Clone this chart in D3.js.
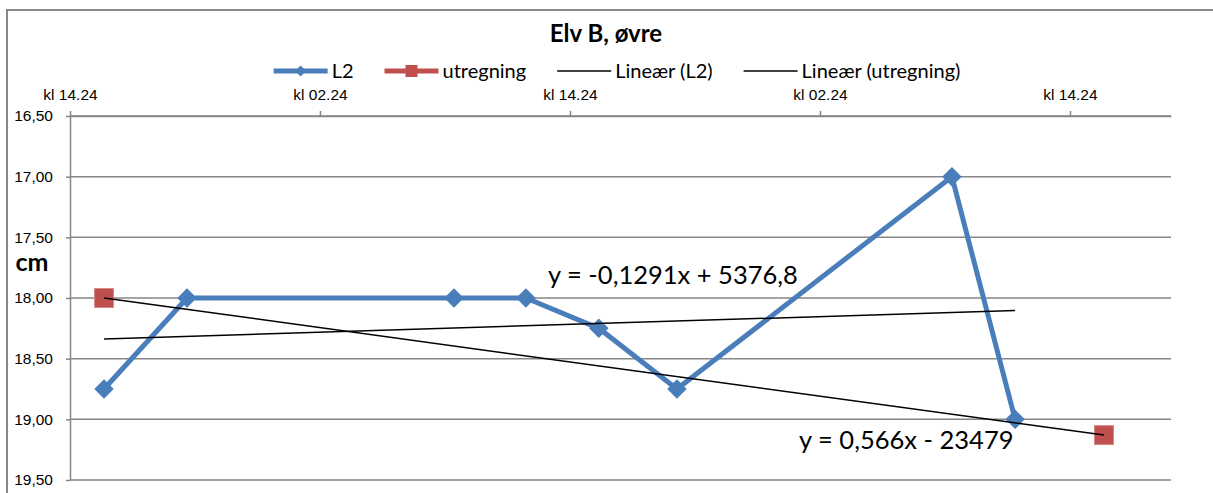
<!DOCTYPE html>
<html lang="no">
<head>
<meta charset="utf-8">
<title>Elv B, øvre</title>
<script src="https://d3js.org/d3.v7.min.js"></script>
<style>
  body { margin: 0; background: #fff; }
  svg { display: block; font-family: Lato, "Noto Sans", sans-serif; }
  .axis text { font-size: 15.5px; fill: #000; }
  .axis path, .axis line { stroke: #868686; stroke-width: 1.5; }
  .grid line { stroke: #868686; stroke-width: 1.5; }
  .title { font-size: 24px; font-weight: 700; }
  .ylabel { font-size: 25px; font-weight: 700; }
  .legend text { font-size: 20px; }
  .eq { font-size: 25.5px; }
</style>
</head>
<body>
<script>
const parseTime = d3.timeParse("%Y-%m-%d %H:%M");

const l2Times = ["2013-08-20 16:02", "2013-08-20 20:01", "2013-08-21 08:50", "2013-08-21 12:17",
                 "2013-08-21 15:47", "2013-08-21 19:32", "2013-08-22 08:44", "2013-08-22 11:46"];
const l2Values = [18.75, 18.00, 18.00, 18.00, 18.25, 18.75, 17.00, 19.00];
const utregningTimes = ["2013-08-20 16:02", "2013-08-22 16:02"];
const utregningValues = [18.00, 19.13];

const xDomain = ["2013-08-20 14:24", "2013-08-22 19:15"];
const xTickTimes = ["2013-08-20 14:24", "2013-08-21 02:24", "2013-08-21 14:24", "2013-08-22 02:24", "2013-08-22 14:24"];
const yTickValues = [16.5, 17, 17.5, 18, 18.5, 19, 19.5];
const seriesNames = ["L2", "utregning", "Lineær (L2)", "Lineær (utregning)"];
const trendEquations = ["y = -0,1291x + 5376,8", "y = 0,566x - 23479"];

const W = 1213, H = 493;
const plot = { left: 70, right: 1171, top: 116, bottom: 480 };
const blue = "#4A7EBB", red = "#C0504D";

const svg = d3.select("body").append("svg").attr("width", W).attr("height", H);

// chart frame
svg.append("rect").attr("x", 7).attr("y", 10).attr("width", W + 20).attr("height", H + 20)
   .attr("fill", "none").attr("stroke", "#888").attr("stroke-width", 2);

const x = d3.scaleTime().domain(xDomain.map(parseTime)).range([plot.left, plot.right]);
const y = d3.scaleLinear().domain([16.5, 19.5]).range([plot.top, plot.bottom]);

// gridlines
svg.append("g").attr("class", "grid")
   .selectAll("line").data(yTickValues).join("line")
   .attr("x1", plot.left).attr("x2", plot.right)
   .attr("y1", d => y(d)).attr("y2", d => y(d));

// axes
svg.append("g").attr("class", "axis")
   .attr("transform", `translate(0,${plot.top})`)
   .call(d3.axisTop(x).tickValues(xTickTimes.map(parseTime))
          .tickFormat(d3.timeFormat("kl %H.%M")).tickSize(5).tickSizeOuter(0).tickPadding(11));

svg.append("g").attr("class", "axis")
   .attr("transform", `translate(${plot.left},0)`)
   .call(d3.axisLeft(y).tickValues(yTickValues)
          .tickFormat(d => d.toFixed(2).replace(".", ",")).tickSize(4).tickSizeOuter(0).tickPadding(13));

// title and axis label
svg.append("text").attr("class", "title").attr("x", 606).attr("y", 42)
   .attr("text-anchor", "middle").text("Elv B, øvre");
svg.append("text").attr("class", "ylabel").attr("x", 32).attr("y", 271)
   .attr("text-anchor", "middle").text("cm");

const l2 = l2Times.map((t, i) => ({ t: parseTime(t), v: l2Values[i] }));
const utr = utregningTimes.map((t, i) => ({ t: parseTime(t), v: utregningValues[i] }));

const line = d3.line().x(d => x(d.t)).y(d => y(d.v));

// least squares fit, x in days like Excel
function trend(data) {
  const xs = data.map(d => d.t / 864e5), ys = data.map(d => d.v);
  const mx = d3.mean(xs), my = d3.mean(ys);
  const b = d3.sum(xs, (v, i) => (v - mx) * (ys[i] - my)) / d3.sum(xs, v => (v - mx) ** 2);
  const a = my - b * mx;
  const ends = [data[0].t, data[data.length - 1].t];
  return ends.map(t => ({ t: t, v: a + b * (t / 864e5) }));
}

// L2 series
svg.append("path").datum(l2).attr("d", line)
   .attr("fill", "none").attr("stroke", blue).attr("stroke-width", 5).attr("stroke-linejoin", "round");
svg.append("g").selectAll("path").data(l2).join("path")
   .attr("d", d3.symbol(d3.symbolSquare, 190))
   .attr("transform", d => `translate(${x(d.t)},${y(d.v)}) rotate(45)`)
   .attr("fill", blue);

// utregning series
svg.append("g").selectAll("rect").data(utr).join("rect")
   .attr("x", d => x(d.t) - 9.5).attr("y", d => y(d.v) - 9.5)
   .attr("width", 19).attr("height", 19)
   .attr("fill", red).attr("stroke", "#d98a88").attr("stroke-width", 1);

// trend lines
[l2, utr].forEach(s => {
  svg.append("path").datum(trend(s)).attr("d", line)
     .attr("fill", "none").attr("stroke", "#000").attr("stroke-width", 1.5);
});

svg.append("text").attr("class", "eq").attr("x", 548).attr("y", 284).text(trendEquations[0]);
svg.append("text").attr("class", "eq").attr("x", 799).attr("y", 449).text(trendEquations[1]);

// legend
const legend = svg.append("g").attr("class", "legend");
const items = legend.selectAll("g").data(seriesNames).join("g");
items.append("text").attr("x", 58).attr("y", 78).text(d => d);
let cx = 0;
const offsets = [];
items.each(function () {
  offsets.push(cx);
  cx += 58 + this.querySelector("text").getComputedTextLength() + 31;
});
const total = cx - 31;
items.attr("transform", (d, i) => `translate(${617 - total / 2 + offsets[i]},0)`);
items.append("line").attr("x1", 0).attr("x2", 54).attr("y1", 71).attr("y2", 71)
     .attr("stroke", (d, i) => i === 0 ? blue : i === 1 ? red : "#000")
     .attr("stroke-width", (d, i) => i < 2 ? 5 : 1.5);
items.filter((d, i) => i === 0).append("path")
     .attr("d", d3.symbol(d3.symbolSquare, 60))
     .attr("transform", "translate(27,71) rotate(45)").attr("fill", blue);
items.filter((d, i) => i === 1).append("rect")
     .attr("x", 21).attr("y", 65).attr("width", 12).attr("height", 12).attr("fill", red);
</script>
</body>
</html>
